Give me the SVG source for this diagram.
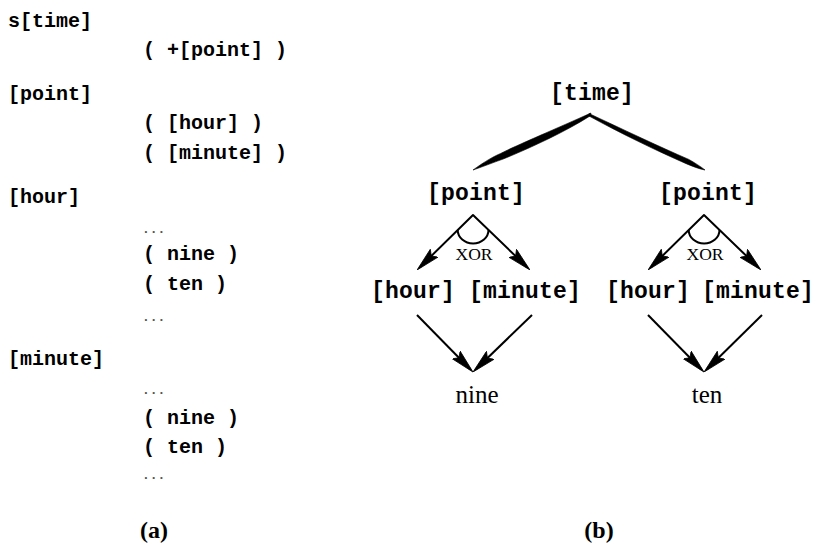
<svg xmlns="http://www.w3.org/2000/svg" width="819" height="549" viewBox="0 0 819 549">
<style>
.code{font-family:"Liberation Mono","DejaVu Sans Mono",monospace;font-weight:bold;font-size:20px;letter-spacing:0px;fill:#000}
.dots{font-family:"Liberation Mono",monospace;font-weight:bold;font-size:13px;fill:#555}
.tt{font-family:"Liberation Mono","DejaVu Sans Mono",monospace;font-weight:bold;font-size:23px;letter-spacing:0.2px;fill:#000}
.rm{font-family:"Liberation Serif","Times New Roman",serif;fill:#000}
.cap{font-family:"Liberation Serif","Times New Roman",serif;font-weight:bold;font-size:24px;fill:#000}
.edge{fill:none;stroke:#000;stroke-width:2;stroke-linejoin:round}
.wedge{fill:#000;stroke:#000;stroke-width:0.6;stroke-linejoin:round}
</style>
<defs>
<marker id="ah" viewBox="0 0 24 12" markerUnits="userSpaceOnUse" markerWidth="24" markerHeight="12" refX="20" refY="6" orient="auto-start-reverse">
<path d="M24,6 L0,0.5 L4,6 L0,11.5 Z" fill="#000" stroke="#000" stroke-width="0.8" stroke-linejoin="round"/>
</marker>
</defs>
<rect width="819" height="549" fill="#fff"/>

<g id="grammar">
<text class="code" x="8" y="27">s[time]</text>
<text class="code" x="143" y="56">( +[point] )</text>
<text class="code" x="8" y="100">[point]</text>
<text class="code" x="143" y="129">( [hour] )</text>
<text class="code" x="143" y="159">( [minute] )</text>
<text class="code" x="8" y="203">[hour]</text>
<text class="dots" x="142" y="233">...</text>
<text class="code" x="143" y="260">( nine )</text>
<text class="code" x="143" y="290">( ten )</text>
<text class="dots" x="142" y="321">...</text>
<text class="code" x="8" y="365">[minute]</text>
<text class="dots" x="142" y="394">...</text>
<text class="code" x="143" y="424">( nine )</text>
<text class="code" x="143" y="453">( ten )</text>
<text class="dots" x="142" y="479">...</text>
<text class="cap" x="154" y="538" text-anchor="middle">(a)</text>
</g>

<g id="connectors">
<path class="wedge" d="M591,113 C560,127 515,146 500.7,153.4 C490,158 480,165 473,170 C482,167 492,163 503.8,158.8 C530,148 565,132 590,116 Z"/>
<path class="wedge" d="M589,113.5 C620,128 660,147 688.8,159.4 C695,163 700,166 705,170 C699,169 692,166 686.7,163.9 C655,150 620,133 589,116 Z"/>
<path class="edge" d="M419.9,267.2 L473,215 L527.1,267.2" marker-start="url(#ah)" marker-end="url(#ah)"/>
<path class="edge" d="M457.7,230 A15.4,13.5 0 0 0 488.5,230"/>
<path class="edge" d="M650.9,267.2 L704,215 L758.1,267.2" marker-start="url(#ah)" marker-end="url(#ah)"/>
<path class="edge" d="M688.7,230 A15.4,13.5 0 0 0 719.5,230"/>
<path class="edge" d="M417,315 L470.2,369.2" marker-end="url(#ah)"/>
<path class="edge" d="M532,315 L475.9,369.2" marker-end="url(#ah)"/>
<path class="edge" d="M648,315 L701.2,369.2" marker-end="url(#ah)"/>
<path class="edge" d="M762,315 L706.9,369.2" marker-end="url(#ah)"/>
</g>

<g id="time"><text class="tt" x="550" y="100">[time]</text></g>
<g id="point1"><text class="tt" x="427" y="200">[point]</text></g>
<g id="point2"><text class="tt" x="659" y="200">[point]</text></g>
<g id="xor1"><text class="rm" x="474" y="260" font-size="16" text-anchor="middle" textLength="37" lengthAdjust="spacingAndGlyphs">XOR</text></g>
<g id="xor2"><text class="rm" x="705" y="260" font-size="16" text-anchor="middle" textLength="37" lengthAdjust="spacingAndGlyphs">XOR</text></g>
<g id="hour1"><text class="tt" x="371" y="298">[hour]</text></g>
<g id="minute1"><text class="tt" x="469" y="298">[minute]</text></g>
<g id="hour2"><text class="tt" x="606" y="298">[hour]</text></g>
<g id="minute2"><text class="tt" x="702" y="298">[minute]</text></g>
<g id="nine"><text class="rm" x="477" y="403" font-size="25" text-anchor="middle">nine</text></g>
<g id="ten"><text class="rm" x="707" y="403" font-size="25" text-anchor="middle">ten</text></g>
<g id="caption-b"><text class="cap" x="599" y="538" text-anchor="middle">(b)</text></g>
</svg>
